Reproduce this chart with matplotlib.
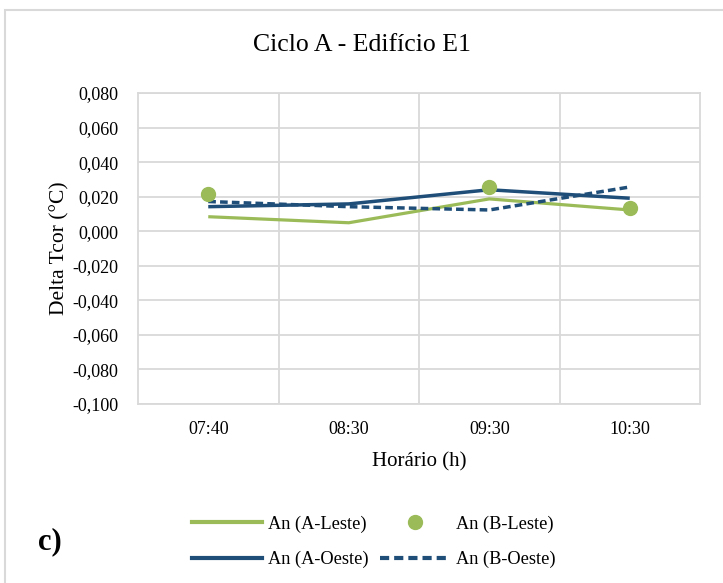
import matplotlib.pyplot as plt
import numpy as np
from matplotlib.patches import Rectangle
from matplotlib.ticker import FuncFormatter, FixedLocator
from matplotlib.lines import Line2D

plt.rcParams['font.family'] = ['Liberation Serif', 'DejaVu Serif']

horarios = ["07:40", "08:30", "09:30", "10:30"]
a_leste = [0.0084, 0.0049, 0.0187, 0.0123]
b_leste = [0.0215, np.nan, 0.0254, 0.0133]
a_oeste = [0.0142, 0.0158, 0.0240, 0.0191]
b_oeste = [0.0172, 0.0142, 0.0123, 0.0256]

verde = "#9BBB59"
azul = "#1F4E79"
cinza = "#D9D9D9"

fig = plt.figure(figsize=(7.23, 5.83), dpi=100)
# moldura do grafico (so as bordas de cima e da esquerda aparecem)
fig.patches.append(Rectangle((5/723, -0.1), 1.2, 1.1 - 10/583, transform=fig.transFigure,
                             fill=False, edgecolor=cinza, linewidth=1.5))

ax = fig.add_axes([138/723, 1 - 404/583, 562/723, 311/583])
x = np.arange(len(horarios))

ax.plot(x, a_leste, color=verde, linewidth=2.3, solid_capstyle='butt', zorder=3)
ax.plot(x, a_oeste, color=azul, linewidth=2.5, solid_capstyle='butt', zorder=3)
ax.plot(x, b_oeste, color=azul, linewidth=2.5, linestyle=(0, (2.2, 1.2)), zorder=3)
ax.plot(x, b_leste, color=verde, linestyle='None', marker='o', markersize=10, zorder=4)

ax.set_xlim(-0.5, 3.5)
ax.set_ylim(-0.1, 0.08)
ax.set_yticks(np.arange(-0.1, 0.0801, 0.02))
ax.yaxis.set_major_formatter(FuncFormatter(lambda v, p: f"{v:.3f}".replace('.', ',').replace('-0,000', '0,000')))
ax.set_xticks(x)
ax.set_xticklabels(horarios)
ax.xaxis.set_minor_locator(FixedLocator([0.5, 1.5, 2.5]))
ax.grid(axis='y', which='major', color=cinza, linewidth=1.3)
ax.grid(axis='x', which='minor', color=cinza, linewidth=1.3)
ax.tick_params(which='both', length=0, labelsize=13)
ax.tick_params(axis='x', pad=12)
ax.tick_params(axis='y', pad=14)
for s in ax.spines.values():
    s.set_color(cinza)
    s.set_linewidth(1.3)
ax.set_axisbelow(True)

ax.set_xlabel("Horário (h)", fontsize=15, labelpad=10.5)
ax.set_ylabel("Delta Tcor (°C)", fontsize=15.5, labelpad=2)
fig.text(0.5, 1 - 45/583, "Ciclo A - Edifício E1", ha='center', va='center', fontsize=18.5)
fig.text(38/723, 1 - 542/583, "c)", ha='left', va='center', fontsize=22, fontweight='bold')

handles = [
    Line2D([], [], color=verde, linewidth=3),
    Line2D([], [], color=azul, linewidth=3),
    Line2D([], [], color=verde, linestyle='None', marker='o', markersize=10),
    Line2D([], [], color=azul, linewidth=3, linestyle=(0, (2.2, 1.2))),
]
labels = ["An (A-Leste)", "An (A-Oeste)", "An (B-Leste)", "An (B-Oeste)"]
fig.legend(handles, labels, ncol=2, loc='center', bbox_to_anchor=(374/723, 1 - 542/583),
           frameon=False, fontsize=13.2, handlelength=3.8, columnspacing=0.65,
           handletextpad=0.33, labelspacing=1.0)

fig.savefig("out.png", dpi=100)
